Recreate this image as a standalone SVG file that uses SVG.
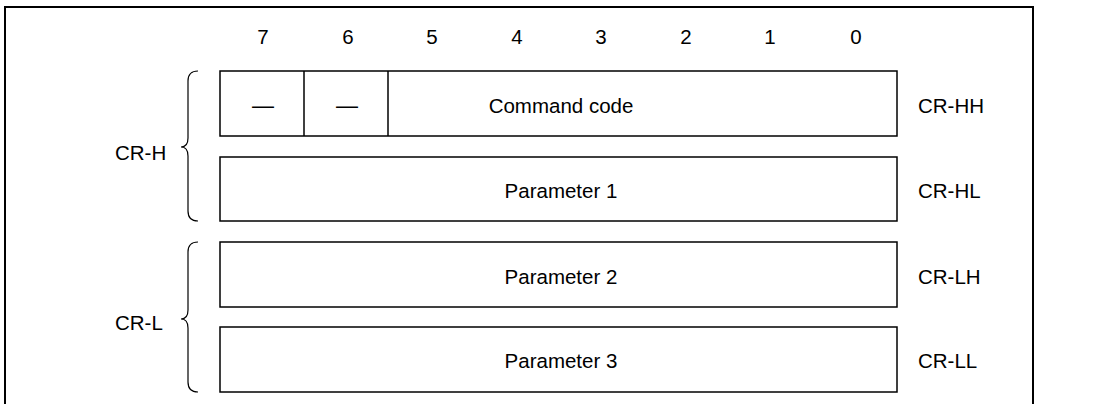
<svg xmlns="http://www.w3.org/2000/svg" width="1101" height="404" viewBox="0 0 1101 404">
  <style>
    .frame { fill: none; stroke: #000; stroke-width: 2; }
    .reg { fill: #fff; stroke: #000; stroke-width: 1.5; }
    .div { stroke: #000; stroke-width: 1.5; }
    .brace { fill: none; stroke: #000; stroke-width: 1.2; }
    text { font-family: "Liberation Sans", Arial, sans-serif; font-size: 20.5px; fill: #000; }
    .c { text-anchor: middle; }
    .dash { font-size: 22px; }
  </style>

  <rect width="1101" height="404" fill="#fff"/>
  <!-- outer frame, open at the bottom -->
  <path class="frame" d="M5,410 V7 H1033 V410"/>

  <!-- bit numbers -->
  <g id="bits">
    <text x="263" y="44" class="c">7</text>
    <text x="348" y="44" class="c">6</text>
    <text x="432" y="44" class="c">5</text>
    <text x="517" y="44" class="c">4</text>
    <text x="601" y="44" class="c">3</text>
    <text x="686" y="44" class="c">2</text>
    <text x="770" y="44" class="c">1</text>
    <text x="856" y="44" class="c">0</text>
  </g>

  <!-- CR-HH register -->
  <g id="cr-hh">
    <rect class="reg" x="220" y="71" width="677" height="65"/>
    <line class="div" x1="304" y1="71" x2="304" y2="136"/>
    <line class="div" x1="388" y1="71" x2="388" y2="136"/>
    <text x="263" y="113" class="c dash">—</text>
    <text x="347" y="113" class="c dash">—</text>
    <text x="561" y="113" class="c">Command code</text>
    <text x="918" y="113">CR-HH</text>
  </g>

  <!-- CR-HL register -->
  <g id="cr-hl">
    <rect class="reg" x="220" y="157" width="677" height="64"/>
    <text x="561" y="198" class="c">Parameter 1</text>
    <text x="918" y="198">CR-HL</text>
  </g>

  <!-- CR-LH register -->
  <g id="cr-lh">
    <rect class="reg" x="220" y="242" width="677" height="65"/>
    <text x="561" y="284" class="c">Parameter 2</text>
    <text x="918" y="284">CR-LH</text>
  </g>

  <!-- CR-LL register -->
  <g id="cr-ll">
    <rect class="reg" x="220" y="327" width="677" height="65"/>
    <text x="561" y="368" class="c">Parameter 3</text>
    <text x="918" y="368">CR-LL</text>
  </g>

  <!-- grouping braces -->
  <g id="connectors">
    <path class="brace" d="M198,71 Q188,71 188,81 L188,138 Q188,147 181,147 Q188,147 188,156 L188,211 Q188,221 198,221"/>
    <path class="brace" d="M198,242 Q188,242 188,252 L188,310 Q188,319 181,319 Q188,319 188,328 L188,382 Q188,392 198,392"/>
  </g>

  <g id="cr-h">
    <text x="115" y="160">CR-H</text>
  </g>
  <g id="cr-l">
    <text x="115" y="330">CR-L</text>
  </g>
</svg>
